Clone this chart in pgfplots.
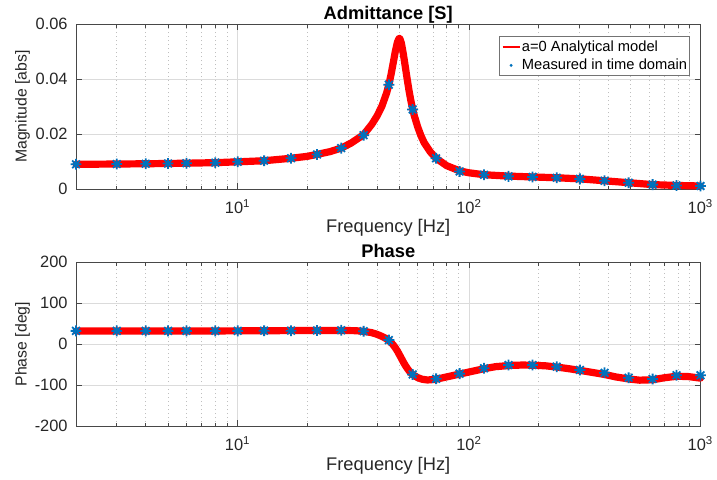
\documentclass[border=0pt]{standalone}
\usepackage{pgfplots}
\pgfplotsset{compat=1.18}
\usepackage{fontspec}
\setmainfont{Liberation Sans}
\definecolor{matblue}{RGB}{0,114,189}
\definecolor{axgray}{RGB}{38,38,38}
\pgfdeclareplotmark{matast}{%
 \pgfpathmoveto{\pgfqpoint{-\pgfplotmarksize}{0pt}}%
 \pgfpathlineto{\pgfqpoint{\pgfplotmarksize}{0pt}}%
 \pgfpathmoveto{\pgfqpoint{0pt}{-\pgfplotmarksize}}%
 \pgfpathlineto{\pgfqpoint{0pt}{\pgfplotmarksize}}%
 \pgfpathmoveto{\pgfqpoint{-0.7071\pgfplotmarksize}{-0.7071\pgfplotmarksize}}%
 \pgfpathlineto{\pgfqpoint{0.7071\pgfplotmarksize}{0.7071\pgfplotmarksize}}%
 \pgfpathmoveto{\pgfqpoint{-0.7071\pgfplotmarksize}{0.7071\pgfplotmarksize}}%
 \pgfpathlineto{\pgfqpoint{0.7071\pgfplotmarksize}{-0.7071\pgfplotmarksize}}%
 \pgfusepathqstroke}
\pgfplotsset{
 myaxis/.style={
  scale only axis, width=312.25pt,
  xmin=2, xmax=1000,
  xtick={10,100,1000},
  xticklabels={10\textsuperscript{1},10\textsuperscript{2},10\textsuperscript{3}},
  minor xtick={2,3,4,5,6,7,8,9,20,30,40,50,60,70,80,90,200,300,400,500,600,700,800,900},
  xmajorgrids=true, xminorgrids=true, ymajorgrids=true,
  major grid style={draw=black!14, line width=0.5pt},
  minor grid style={draw=black!25, line width=0.5pt, dash pattern=on 0.5pt off 1.5pt},
  axis line style={draw=black!72, line width=0.5pt},
  tick align=inside, major tick length=3pt, minor tick length=1.7pt,
  every tick/.style={draw=black!72, line width=0.5pt},
  tick label style={font=\fontsize{8.2}{9.5}\selectfont, text=axgray, inner sep=0pt},
  xticklabel style={anchor=base}, xticklabel shift=12.1pt,
  yticklabel shift=4pt,
  scaled y ticks=false,
  every axis title shift=0pt,
  xlabel style={font=\fontsize{9.15}{11}\selectfont, text=axgray, anchor=base},
  every axis y label/.style={at={(axis description cs:-0.0857,0.5)}, rotate=90, anchor=center, font=\fontsize{7.9}{9.5}\selectfont, text=axgray},
  title style={font=\bfseries\fontsize{9.15}{11}\selectfont, anchor=base},
  clip=false,
 },
 redline/.style={draw=red, line width=3.6pt, no marks, line cap=round, line join=round,
   legend image code/.code={\draw[red, line width=1pt, line cap=butt] (0pt,0pt) -- (8.5pt,0pt);}},
 bluemarks/.style={only marks, mark=matast, mark size=2.7pt, color=matblue, mark options={line width=0.9pt, draw=matblue},
   legend image code/.code={\path[draw=none, fill=none] (0pt,0pt) -- (8.5pt,0pt); \path[draw=none, fill=matblue] (4.2pt,0pt) circle (0.8pt);}},
}
\begin{document}
\begin{tikzpicture}
\path[use as bounding box] (-38pt,-145pt) rectangle (320.5pt,94.5pt);
\begin{semilogxaxis}[myaxis, at={(0pt,0pt)}, anchor=south west, height=82.35pt,
  ymin=0, ymax=0.06, ytick={0,0.02,0.04,0.06}, yticklabels={0,0.02,0.04,0.06},
  title={Admittance [S]}, title style={at={(0.5,1.029)}},
  xlabel={Frequency [Hz]}, xlabel style={at={(axis description cs:0.5,-0.267)}},
  ylabel={Magnitude [abs]},
  legend style={at={(0.983,0.9265)}, anchor=north east, font=\fontsize{7.35}{8.5}\selectfont,
    draw=black!55, line width=0.5pt, fill=white, inner xsep=1.2pt, inner ysep=0.75pt,
    nodes={inner xsep=0pt, inner ysep=1pt, text height=5.5pt, text depth=1.5pt, text=black},
    /tikz/every odd column/.append style={column sep=0.6pt}},
  legend cell align=left,
 ]
\addplot[redline] coordinates {(2,0.0090)(3,0.0091)(4,0.0092)(5,0.0093)(6,0.0094)(8,0.0096)(10,0.0099)(13,0.0103)(17,0.0112)(20,0.0119)(22,0.0126)(25,0.0136)(28,0.0149)(31,0.0168)(35,0.0198)(38,0.0236)(40,0.0266)(42,0.0302)(44,0.0350)(45,0.0380)(46,0.0418)(47,0.0460)(48,0.0502)(49,0.0535)(49.7,0.0547)(50,0.0549)(50.3,0.0546)(51,0.0530)(52,0.0490)(53,0.0445)(54,0.0400)(55,0.0358)(56,0.0322)(57,0.0292)(58,0.0266)(60,0.0225)(62,0.0193)(64,0.0168)(68,0.0135)(72,0.0112)(80,0.0085)(91,0.0066)(100,0.0059)(116,0.0052)(148,0.0047)(188,0.0044)(239,0.0041)(301,0.0037)(385,0.0030)(489,0.0023)(621,0.0016)(788,0.0013)(1000,0.0011)};
\addlegendentry{a=0 Analytical model\hspace{3pt}}
\addplot[bluemarks] coordinates {(2,0.0090)(3,0.0091)(4,0.0092)(5,0.0093)(6,0.0094)(8,0.0096)(10,0.0099)(13,0.0103)(17,0.0112)(22,0.0126)(28,0.0149)(35,0.0196)(45,0.038)(57,0.029)(72,0.0112)(91,0.0064)(116,0.0052)(148,0.0046)(188,0.0044)(239,0.0041)(301,0.0037)(385,0.0030)(489,0.0023)(621,0.0016)(788,0.0013)(1000,0.0011)};
\addlegendentry{Measured in time domain\hspace{3pt}}
\end{semilogxaxis}
\begin{semilogxaxis}[myaxis, at={(0pt,-118.5pt)}, anchor=south west, height=81.85pt,
  ymin=-200, ymax=200, ytick={-200,-100,0,100,200}, yticklabels={-200,-100,0,100,200},
  title={Phase}, title style={at={(0.5,1.032)}},
  xlabel={Frequency [Hz]}, xlabel style={at={(axis description cs:0.5,-0.269)}},
  ylabel={Phase [deg]},
 ]
\addplot[redline] coordinates {(2,32)(5,32)(10,32.5)(15,33)(20,33.5)(28,33.5)(32,33)(35,31.5)(38,28)(40,24)(42,19)(44,13)(45,9)(46,4)(47,-2)(48,-9)(49,-17)(50,-26)(51,-35)(52,-44)(53,-52)(54,-59)(55,-65)(56,-70)(57,-74)(58,-77)(60,-82)(63,-86)(66,-87.5)(70,-86.5)(75,-83.5)(80,-80)(91,-73)(100,-68)(116,-60)(130,-55)(150,-52)(170,-51)(190,-51.5)(215,-53)(240,-56)(270,-60)(301,-64)(340,-69)(385,-74)(430,-80)(489,-85)(545,-88)(621,-87)(700,-82)(788,-78.5)(880,-79)(1000,-83)};
\addplot[bluemarks] coordinates {(2,32.5)(3,32.5)(4,32.5)(5,32.5)(6,32.5)(8,32.5)(10,32.5)(13,33)(17,33)(22,33.5)(28,34)(35,31.7)(45,10)(57,-74)(72,-84.6)(91,-72)(116,-59)(148,-51)(188,-51)(239,-55)(301,-63)(385,-70)(489,-82)(621,-85)(788,-76)(1000,-76)};
\end{semilogxaxis}
\end{tikzpicture}
\end{document}
